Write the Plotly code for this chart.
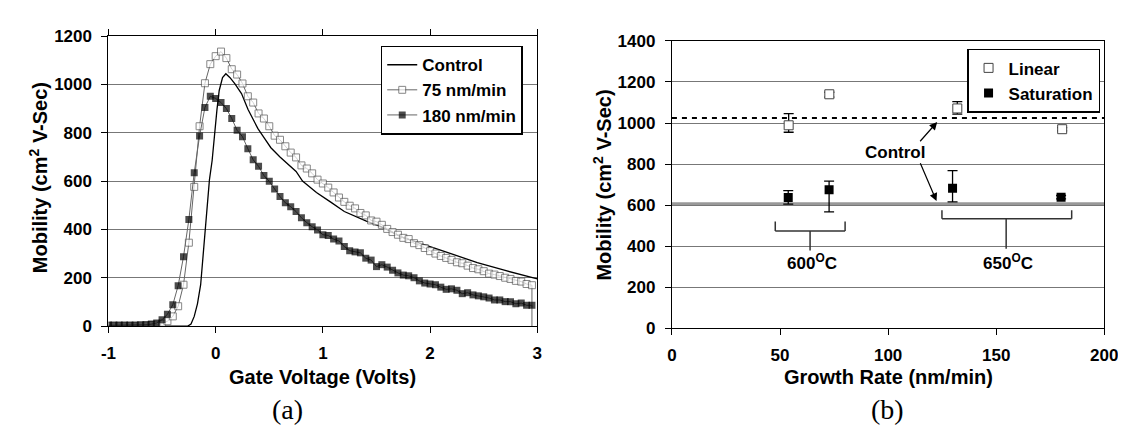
import numpy as np
import plotly.graph_objects as go

W, H = 1126, 431

# ---------------- Panel (a) data ----------------
gate_v = np.round(np.arange(-1.0, 2.951, 0.05), 2)  # voltage sweep, 80 points
mu_75 = [2, 2, 2, 2, 2, 2, 3, 3, 4, 6, 10,
         20, 40, 82, 171, 345, 576, 827, 1005, 1084,
         1117, 1136, 1109, 1063, 1041, 1004, 951, 925, 880, 859,
         827, 788, 771, 744, 718, 698, 665, 652, 632, 606,
         590, 573, 553, 532, 514, 498, 487, 468, 458, 437,
         432, 419, 402, 389, 378, 365, 360, 343, 335, 323,
         310, 300, 290, 282, 274, 264, 260, 250, 240, 235,
         227, 217, 213, 207, 200, 195, 187, 184, 174, 169]
mu_180 = [3, 3, 3, 3, 3, 3, 4, 5, 8, 13, 26,
          49, 88, 167, 287, 441, 635, 787, 905, 951,
          942, 925, 900, 859, 810, 784, 734, 688, 661, 623,
          599, 567, 536, 510, 494, 474, 448, 428, 411, 398,
          378, 375, 360, 352, 329, 312, 307, 303, 281, 273,
          246, 254, 244, 231, 220, 211, 208, 200, 187, 178,
          174, 171, 161, 152, 154, 148, 134, 138, 129, 125,
          121, 116, 108, 108, 101, 101, 92, 95, 86, 86, 76]
end_value = 0  # both sweeps drop back to zero after the last point

control_v = [-1.0, -0.5, -0.26, -0.23, -0.20, -0.17, -0.14, -0.11, -0.079, -0.058,
             -0.033, -0.009, 0.012, 0.033, 0.064, 0.095, 0.134, 0.18, 0.241, 0.302,
             0.348, 0.394, 0.454, 0.515, 0.60, 0.68, 0.75, 0.81, 0.94, 1.07,
             1.2, 1.4, 1.56, 1.73, 2.0, 2.21, 2.44, 2.7, 3.0]
control_mu = [0, 0, 0, 8, 40, 92, 171, 330, 488, 606,
              685, 804, 896, 975, 1028, 1044, 1028, 1002, 962, 896,
              857, 817, 778, 738, 700, 668, 640, 600, 553, 514,
              474, 435, 408, 369, 329, 296, 263, 230, 195]

gate_ticks = [-1, 0, 1, 2, 3]
gate_tick_text = ["-1", "0", "1", "2", "3"]

# ---------------- Panel (b) data ----------------
rate_lin = [54.0, 72.8, 132.0, 180.5]
mu_lin = [989, 1140, 1071, 970]
lin_err_plus = [57, 10, 33, 8]
lin_err_minus = [34, 14, 28, 8]

rate_sat = [53.8, 72.7, 129.8, 180.0]
mu_sat = [637, 675, 682, 639]
sat_err_plus = [34, 42, 86, 8]
sat_err_minus = [32, 108, 66, 8]

control_linear = 1025
control_saturation = 607

FONT = "Liberation Sans, Arial, sans-serif"
tickfont = dict(family=FONT, size=17, color="black", weight="bold")


def px_x(p):
    return p / W


def px_y(p):
    return 1 - p / H


fig = go.Figure()

# ---- panel (a) traces ----
fig.add_trace(go.Scatter(
    x=control_v, y=control_mu, mode="lines", name="Control",
    line=dict(color="black", width=1.3), xaxis="x", yaxis="y", legend="legend"))

n = len(gate_v)
xs = list(gate_v) + [gate_v[-1]]
sizes = [7] * n + [0]
fig.add_trace(go.Scatter(
    x=xs, y=mu_75 + [end_value], mode="lines+markers", name="75 nm/min",
    line=dict(color="#666", width=1),
    marker=dict(symbol="square", size=sizes, color="white",
                line=dict(color="#555", width=1)),
    xaxis="x", yaxis="y", legend="legend"))
fig.add_trace(go.Scatter(
    x=xs, y=mu_180 + [end_value], mode="lines+markers", name="180 nm/min",
    line=dict(color="#666", width=1),
    marker=dict(symbol="square", size=sizes, color="black",
                line=dict(color="black", width=0)),
    xaxis="x", yaxis="y", legend="legend"))

# ---- panel (b) traces ----
fig.add_trace(go.Scatter(
    x=rate_lin, y=mu_lin, mode="markers", name="Linear",
    marker=dict(symbol="square", size=9, color="white", line=dict(color="#444", width=1)),
    error_y=dict(type="data", array=lin_err_plus, arrayminus=lin_err_minus,
                 color="black", thickness=1.3, width=5),
    xaxis="x2", yaxis="y2", legend="legend2"))
fig.add_trace(go.Scatter(
    x=rate_sat, y=mu_sat, mode="markers", name="Saturation",
    marker=dict(symbol="square", size=9, color="black", line=dict(width=0)),
    error_y=dict(type="data", array=sat_err_plus, arrayminus=sat_err_minus,
                 color="black", thickness=1.3, width=5),
    xaxis="x2", yaxis="y2", legend="legend2"))

axis_common = dict(showline=True, linecolor="black", linewidth=1.2, mirror=True,
                   ticks="outside", ticklen=6, tickcolor="black", tickwidth=1.2,
                   tickfont=tickfont, zeroline=False, fixedrange=True)

fig.update_layout(
    width=W, height=H, autosize=False,
    margin=dict(l=0, r=0, t=0, b=0),
    paper_bgcolor="white", plot_bgcolor="white",
    font=dict(family=FONT, color="black"),
    xaxis=dict(domain=[px_x(94.3), px_x(531.7)], range=[-1, 3],
               tickmode="array", tickvals=gate_ticks, ticktext=gate_tick_text,
               showgrid=False, anchor="y", ticklabelstandoff=5,
               **{**axis_common, "mirror": "ticks"}),
    yaxis=dict(domain=[px_y(323.3), px_y(20)], range=[0, 1200], dtick=200,
               showgrid=True, gridcolor="#777", gridwidth=1, anchor="x",
               ticklabelstandoff=6, **axis_common),
    xaxis2=dict(domain=[px_x(669), px_x(1110)], range=[0, 200], dtick=50,
                showgrid=False, anchor="y2", ticklabelstandoff=5, **axis_common),
    yaxis2=dict(domain=[px_y(325.7), px_y(25)], range=[0, 1400], dtick=200,
                showgrid=True, gridcolor="#777", gridwidth=1, anchor="x2",
                ticklabelstandoff=6, **axis_common),
    legend=dict(x=px_x(372), y=px_y(30), xanchor="left", yanchor="top",
                bgcolor="white", bordercolor="black", borderwidth=1.5,
                font=dict(family=FONT, size=17, color="black", weight="bold"),
                tracegroupgap=0, itemwidth=30),
    legend2=dict(x=px_x(970), y=px_y(33.3), xanchor="left", yanchor="top",
                 bgcolor="white", bordercolor="black", borderwidth=1.5,
                 font=dict(family=FONT, size=17, color="black", weight="bold"),
                 tracegroupgap=0, itemwidth=30),
    showlegend=True,
)

# control reference lines in panel (b)
fig.add_shape(type="line", xref="x2", yref="y2", x0=0, x1=200,
              y0=control_saturation, y1=control_saturation,
              line=dict(color="#999", width=3), layer="below")
fig.add_shape(type="line", xref="x2", yref="y2", x0=0, x1=200,
              y0=control_linear, y1=control_linear,
              line=dict(color="black", width=2, dash="5px,5px"))

# temperature brackets
for (xl, xr, ytop, ymid, xc, ybot) in [(47.8, 80.1, 520, 474, 63.9, 379),
                                        (124.9, 184.9, 575, 534, 154.6, 388)]:
    for (a0, b0, a1, b1) in [(xl, ytop, xl, ymid), (xl, ymid, xr, ymid),
                             (xr, ymid, xr, ytop), (xc, ymid, xc, ybot)]:
        fig.add_shape(type="line", xref="x2", yref="y2", x0=a0, y0=b0, x1=a1, y1=b1,
                      line=dict(color="#333", width=1.5))

lab = dict(family=FONT, size=17, color="black", weight="bold")
ctr = dict(xanchor="center", yanchor="middle", showarrow=False)
fig.add_annotation(x=64.7, y=321, xref="x2", yref="y2", text="600<sup>O</sup>C",
                   font=lab, **ctr)
fig.add_annotation(x=155.4, y=321, xref="x2", yref="y2", text="650<sup>O</sup>C",
                   font=lab, **ctr)
fig.add_annotation(x=103, y=857, xref="x2", yref="y2", text="Control",
                   font=lab, **ctr)
for (tx, ty, hx, hy) in [(114.2, 904, 122.7, 1005), (114.6, 811, 122.4, 620)]:
    fig.add_annotation(x=hx, y=hy, ax=tx, ay=ty, xref="x2", yref="y2",
                       axref="x2", ayref="y2", text="", showarrow=True,
                       arrowhead=2, arrowsize=1.3, arrowwidth=1.2, arrowcolor="black")

# axis titles
tfont = dict(family=FONT, size=20, color="black", weight="bold")
fig.add_annotation(x=px_x(313), y=px_y(377), xref="paper", yref="paper",
                   text="Gate Voltage (Volts)", font=tfont, **ctr)
fig.add_annotation(x=px_x(889.5), y=px_y(377), xref="paper", yref="paper",
                   text="Growth Rate (nm/min)", font=tfont, **ctr)
fig.add_annotation(x=px_x(23), y=px_y(168), xref="paper", yref="paper",
                   text="Mobility (cm<sup>2</sup> V-Sec)", textangle=-90,
                   font=tfont, **ctr)
fig.add_annotation(x=px_x(598), y=px_y(176), xref="paper", yref="paper",
                   text="Mobility (cm<sup>2</sup> V-Sec)", textangle=-90,
                   font=tfont, **ctr)

# panel labels
pfont = dict(family="Liberation Serif, Times New Roman, serif", size=28, color="black")
fig.add_annotation(x=px_x(277), y=px_y(411), xref="paper", yref="paper",
                   text="(a)", font=pfont, **ctr)
fig.add_annotation(x=px_x(889), y=px_y(411), xref="paper", yref="paper",
                   text="(b)", font=pfont, **ctr)

fig.write_html("out.html")
